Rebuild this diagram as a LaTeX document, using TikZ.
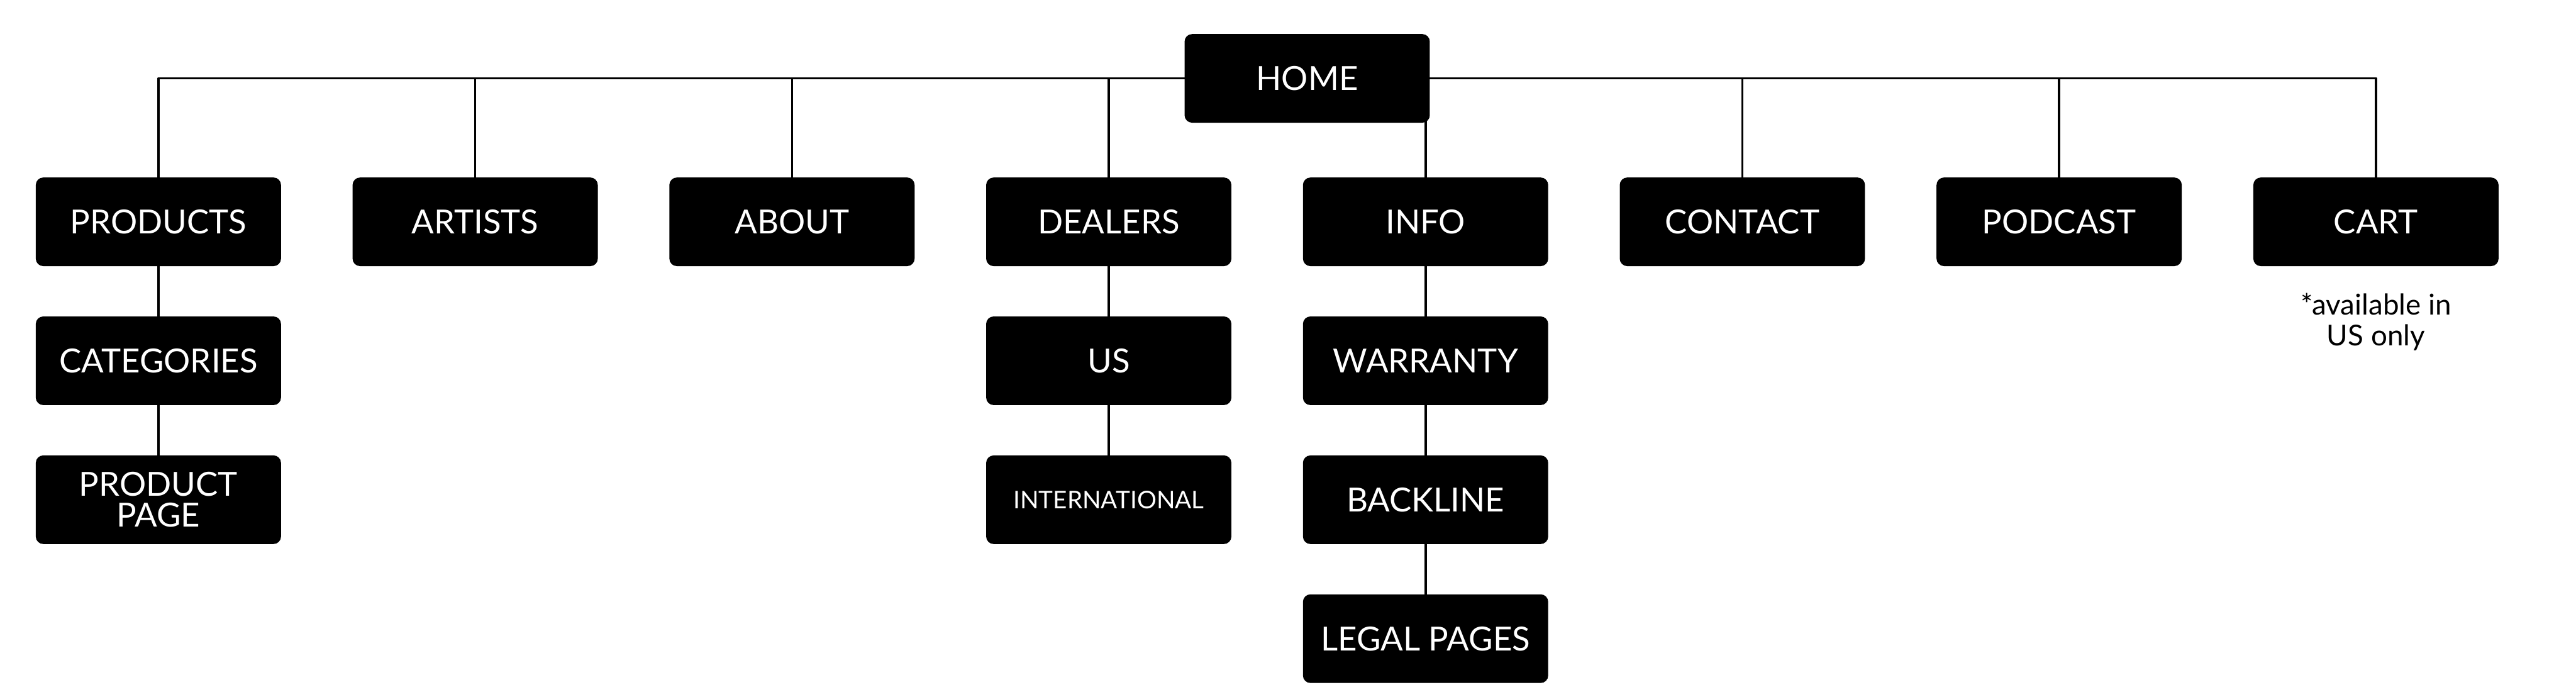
\documentclass[tikz,border=0pt]{standalone}
\usepackage{fontspec}
\setmainfont{Lato}
\usetikzlibrary{positioning}
\tikzstyle{every node}=[font=\fontsize{15}{17}\selectfont]
\tikzstyle{every path}=[line width=0.8pt,line cap=round,line join=round]
\tikzset{
  page/.style={draw=black,fill=black,text=white,rounded corners=3pt,
    minimum width=3.87cm,minimum height=1.38cm,inner sep=0pt,align=center},
  link/.style={black,line width=1pt}
}

\begin{document}
\begin{tikzpicture}[x=0.02651cm,y=-0.02651cm]
    \useasboundingbox (0,0) rectangle (1545,414.6);

    % Top level
    \node [page] (home) at (784,47) {HOME};
    \node [page] (products) at (95,133) {PRODUCTS};
    \node [page] (artists) at (285,133) {ARTISTS};
    \node [page] (about) at (475,133) {ABOUT};
    \node [page] (dealers) at (665,133) {DEALERS};
    \node [page] (info) at (855,133) {INFO};
    \node [page] (contact) at (1045,133) {CONTACT};
    \node [page] (podcast) at (1235,133) {PODCAST};
    \node [page] (cart) at (1425,133) {CART};

    % Sub pages
    \node [page,below=0.8cm of products] (categories) {CATEGORIES};
    \node [page,below=0.8cm of categories] (productpage) {PRODUCT\\[-3pt]PAGE};
    \node [page,below=0.8cm of dealers] (us) {US};
    \node [page,below=0.8cm of us,font=\fontsize{11}{13}\selectfont] (intl) {INTERNATIONAL};
    \node [page,below=0.8cm of info] (warranty) {WARRANTY};
    \node [page,below=0.8cm of warranty] (backline) {BACKLINE};
    \node [page,below=0.8cm of backline] (legal) {LEGAL PAGES};

    \node [align=center,below=0.3cm of cart,font=\fontsize{13}{14}\selectfont] (note) {*available in\\US only};

    % Connections
    \draw [link] (home.west) -| (products.north);
    \draw [link] (home.west) -| (artists.north);
    \draw [link] (home.west) -| (about.north);
    \draw [link] (home.west) -| (dealers.north);
    \draw [link] (home.east) -| (info.north);
    \draw [link] (home.east) -| (contact.north);
    \draw [link] (home.east) -| (podcast.north);
    \draw [link] (home.east) -| (cart.north);
    \draw [link] (products) -- (categories) (categories) -- (productpage);
    \draw [link] (dealers) -- (us) (us) -- (intl);
    \draw [link] (info) -- (warranty) (warranty) -- (backline) (backline) -- (legal);
\end{tikzpicture}
\end{document}
